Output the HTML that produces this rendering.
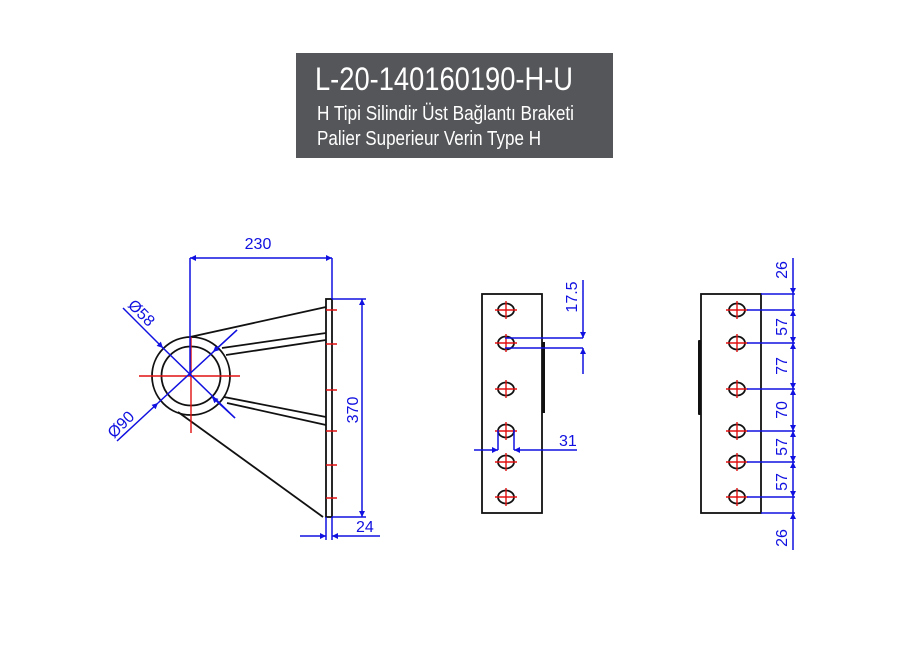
<!DOCTYPE html>
<html><head><meta charset="utf-8"><style>
html,body{margin:0;padding:0;background:#fff;}
svg{display:block;}
text{font-family:"Liberation Sans",sans-serif;}
</style></head><body>
<svg width="900" height="656" viewBox="0 0 900 656" xmlns="http://www.w3.org/2000/svg">
<defs>
<marker id="a" viewBox="0 0 10 10" refX="10" refY="5" markerWidth="11" markerHeight="6" orient="auto-start-reverse" markerUnits="userSpaceOnUse"><path d="M0,0 L10,5 L0,10 z" fill="#1010e0"/></marker>
<g id="h"><ellipse cx="0" cy="0" rx="8" ry="6.5" fill="none" stroke="#111" stroke-width="1.8"/><path d="M-11,0H11M0,-9V9" stroke="#e01010" stroke-width="1.4"/></g>
</defs>
<rect x="296" y="53" width="317" height="105" fill="#555659"/>
<text x="315" y="90" fill="#fff" font-size="32" textLength="258" lengthAdjust="spacingAndGlyphs">L-20-140160190-H-U</text>
<text x="317" y="120" fill="#fff" font-size="20" textLength="257" lengthAdjust="spacingAndGlyphs">H Tipi Silindir Üst Bağlantı Braketi</text>
<text x="317" y="145" fill="#fff" font-size="20" textLength="224" lengthAdjust="spacingAndGlyphs">Palier Superieur Verin Type H</text>

<g stroke="#111" stroke-width="1.8" fill="none">
<circle cx="191" cy="376" r="39"/>
<circle cx="191" cy="376" r="29.5"/>
<rect x="326" y="299" width="6" height="218"/>
<line x1="190" y1="337" x2="326" y2="307"/>
<line x1="222" y1="348" x2="326" y2="333"/>
<line x1="226" y1="355" x2="326" y2="340"/>
<line x1="224" y1="397" x2="326" y2="417"/>
<line x1="227" y1="403" x2="326" y2="425"/>
<line x1="178" y1="412" x2="323" y2="517"/>
</g>
<g stroke="#e01010" stroke-width="1.4">
<path d="M139,376H240M191,337V433"/>
<path d="M326,310h11M326,344h11M326,390h11M326,431h11M326,465h11M326,498h11"/>
</g>
<g stroke="#1010e0" stroke-width="1.5" fill="none">
<path d="M190,258V376M332,258V299"/>
<line x1="190" y1="258" x2="332" y2="258" marker-start="url(#a)" marker-end="url(#a)"/>
<path d="M332,299H366M332,517H366"/>
<line x1="362" y1="299" x2="362" y2="517" marker-start="url(#a)" marker-end="url(#a)"/>
<path d="M326,517V540M332,517V540"/>
<line x1="300" y1="536" x2="326" y2="536" marker-end="url(#a)"/>
<line x1="380" y1="536" x2="332" y2="536" marker-end="url(#a)"/>
<line x1="123" y1="308" x2="163" y2="348" marker-end="url(#a)"/>
<line x1="163" y1="348" x2="235" y2="418"/>
<line x1="235" y1="418" x2="212" y2="397" marker-end="url(#a)"/>
<line x1="117" y1="441" x2="158" y2="403" marker-end="url(#a)"/>
<line x1="158" y1="403" x2="237" y2="330"/>
<line x1="237" y1="330" x2="213" y2="352" marker-end="url(#a)"/>
</g>
<g fill="#1010e0" font-size="16">
<text x="258" y="249" text-anchor="middle">230</text>
<text transform="translate(358,410) rotate(-90)" text-anchor="middle">370</text>
<text x="356" y="532">24</text>
<text transform="translate(127,306) rotate(45)">Ø58</text>
<text transform="translate(114,439) rotate(-45)">Ø90</text>
</g>

<rect x="482" y="294" width="60" height="219" fill="none" stroke="#111" stroke-width="1.8"/>
<rect x="542" y="342" width="3" height="71" fill="#111"/>
<use href="#h" x="506" y="310"/><use href="#h" x="506" y="343"/><use href="#h" x="506" y="389"/>
<use href="#h" x="506" y="431"/><use href="#h" x="506" y="462"/><use href="#h" x="506" y="497"/>
<g stroke="#1010e0" stroke-width="1.5" fill="none">
<path d="M505,338H583M505,348H583"/>
<line x1="583" y1="280" x2="583" y2="338" marker-end="url(#a)"/>
<line x1="583" y1="374" x2="583" y2="348" marker-end="url(#a)"/>
<path d="M498,430V450M514,430V450"/>
<line x1="474" y1="450" x2="498" y2="450" marker-end="url(#a)"/>
<line x1="577" y1="450" x2="514" y2="450" marker-end="url(#a)"/>
</g>
<g fill="#1010e0" font-size="16">
<text transform="translate(577,297) rotate(-90)" text-anchor="middle">17.5</text>
<text x="559" y="446">31</text>
</g>

<rect x="701" y="294" width="60" height="219" fill="none" stroke="#111" stroke-width="1.8"/>
<rect x="698" y="340" width="3" height="75" rx="1" fill="#111"/>
<use href="#h" x="737" y="310"/><use href="#h" x="737" y="343"/><use href="#h" x="737" y="389"/>
<use href="#h" x="737" y="431"/><use href="#h" x="737" y="462"/><use href="#h" x="737" y="497"/>
<g stroke="#1010e0" stroke-width="1.5" fill="none">
<path d="M761,294H795M747,310H795M747,343H795M747,389H795M747,431H795M747,462H795M747,497H795M761,513H795"/>
<line x1="793" y1="258" x2="793" y2="294" marker-end="url(#a)"/>
<line x1="793" y1="310" x2="793" y2="343" marker-start="url(#a)" marker-end="url(#a)"/>
<line x1="793" y1="343" x2="793" y2="389" marker-start="url(#a)" marker-end="url(#a)"/>
<line x1="793" y1="389" x2="793" y2="431" marker-start="url(#a)" marker-end="url(#a)"/>
<line x1="793" y1="431" x2="793" y2="462" marker-start="url(#a)" marker-end="url(#a)"/>
<line x1="793" y1="462" x2="793" y2="497" marker-start="url(#a)" marker-end="url(#a)"/>
<line x1="793" y1="550" x2="793" y2="513" marker-end="url(#a)"/>
<line x1="793" y1="294" x2="793" y2="310"/>
<line x1="793" y1="497" x2="793" y2="513"/>
</g>
<g fill="#1010e0" font-size="16" text-anchor="middle">
<text transform="translate(787,270) rotate(-90)">26</text>
<text transform="translate(787,327) rotate(-90)">57</text>
<text transform="translate(787,366) rotate(-90)">77</text>
<text transform="translate(787,410) rotate(-90)">70</text>
<text transform="translate(787,447) rotate(-90)">57</text>
<text transform="translate(787,482) rotate(-90)">57</text>
<text transform="translate(787,538) rotate(-90)">26</text>
</g>
</svg>
</body></html>
